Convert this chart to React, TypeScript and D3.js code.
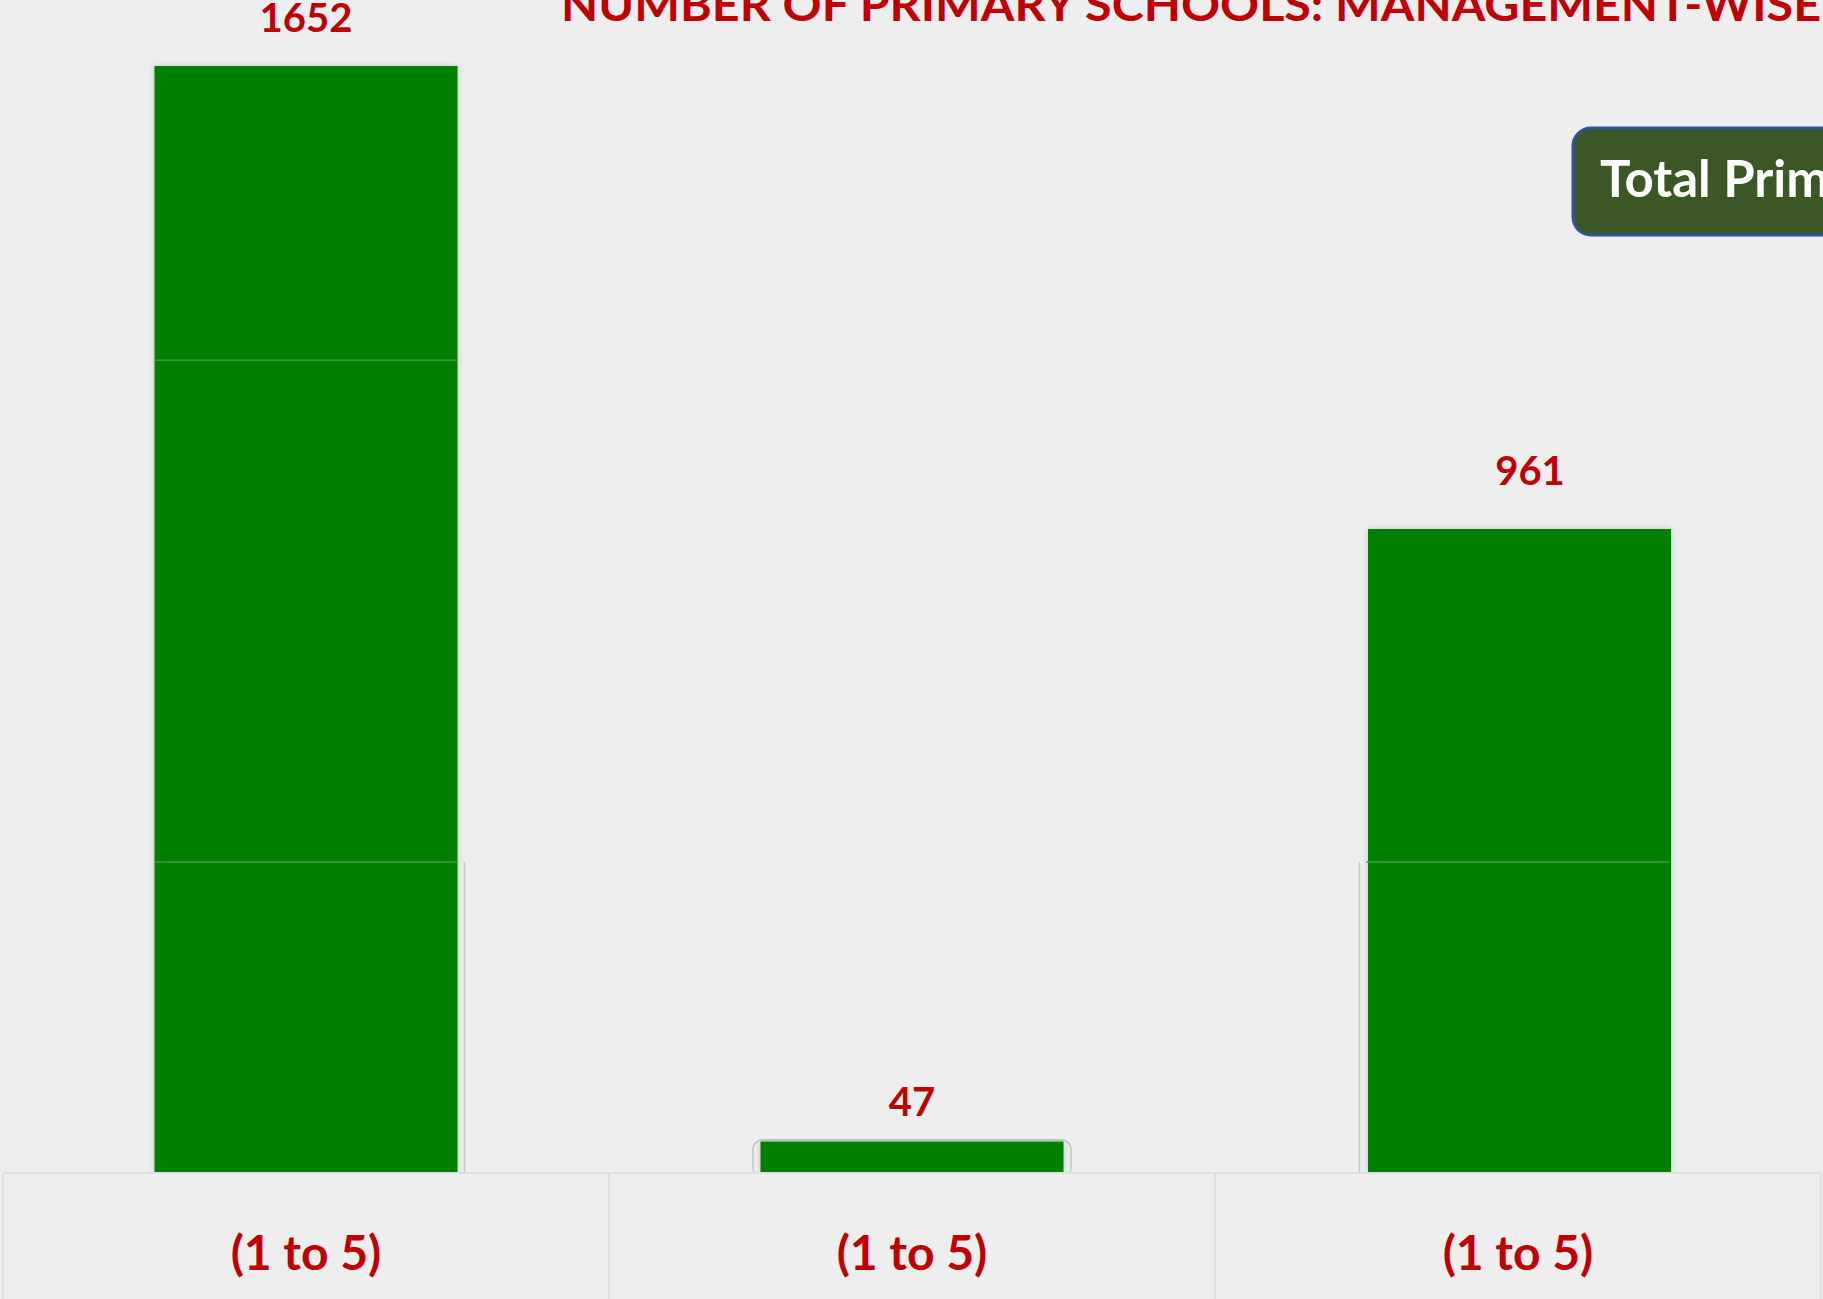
import React from "react";
import * as d3 from "d3";

const categories = ["A", "B", "C"];
const categoryLabels = ["(1 to 5)", "(1 to 5)", "(1 to 5)"];
const schoolCounts = [1652, 47, 961];
const segmentBreaks = [464, 1213];
const titleText = "NUMBER OF PRIMARY SCHOOLS: MANAGEMENT-WISE";
const legendText = "Total Primary Schools: 2660";

const W = 1823;
const H = 1299;
const FONT = "Lato, 'Open Sans', sans-serif";
const RED = "#C00000";
const GREEN = "#008000";

export default function App() {
  const axisY = 1173;
  const y = d3.scaleLinear().domain([0, 1652]).range([axisY, 66]);
  const cell = d3.scaleBand<string>().domain(categories).range([3, 1821]).padding(0);
  const cw = cell.bandwidth();
  const barX = (c: string) => (cell(c) as number) + cw * 0.25;
  const bw = cw * 0.5;
  const labelDx = [0, 0, 12];
  const labelGap = [34, 26, 44];

  return (
    <div style={{ position: "fixed", left: 0, top: 0, width: W, height: H, background: "#EEEEEE" }}>
      <svg width={W} height={H} style={{ display: "block" }}>
        <defs>
          <filter id="sh" x="-10%" y="-10%" width="120%" height="120%">
            <feDropShadow dx="0" dy="0" stdDeviation="3" floodColor="#000" floodOpacity="0.18" />
          </filter>
        </defs>
        <rect x={0} y={0} width={W} height={H} fill="#EEEEEE" />

        {/* title */}
        <text x={561} y={21} fill={RED} fontFamily={FONT} fontWeight={700} fontSize={46}
          textLength={1260} lengthAdjust="spacingAndGlyphs">{titleText}</text>

        {/* legend box */}
        <rect x={1573} y={128} width={400} height={107} rx={18} ry={18} fill="#3A5725" stroke="#2F5597" strokeWidth={3} />
        <text x={1600} y={197} fill="#FFFFFF" fontFamily={FONT} fontWeight={700} fontSize={51}>{legendText}</text>

        {/* bar 2 outline */}
        <rect x={753} y={1140} width={318} height={axisY - 1140 + 4} rx={9} fill="none" stroke="#C4C4C4" strokeWidth={1.5} />

        {/* bars */}
        {categories.map((c, i) => (
          <g key={c}>
            <rect x={barX(c) + (i === 2 ? 1.5 : 0)} y={y(schoolCounts[i])} width={bw} height={axisY - y(schoolCounts[i])}
              fill={GREEN} filter="url(#sh)" />
            {segmentBreaks.filter((b) => b < schoolCounts[i]).map((b) => (
              <line key={b} x1={barX(c)} x2={barX(c) + bw} y1={y(b)} y2={y(b)} stroke="#3E9E3E" strokeWidth={1.5} />
            ))}
            <text x={barX(c) + bw / 2 + labelDx[i]} y={y(schoolCounts[i]) - labelGap[i]} textAnchor="middle"
              fill={RED} fontFamily={FONT} fontWeight={700} fontSize={40}>{schoolCounts[i]}</text>
          </g>
        ))}

        {/* stray vertical lines */}
        <line x1={barX(categories[0]) + bw + 7} x2={barX(categories[0]) + bw + 7} y1={y(segmentBreaks[0])} y2={axisY} stroke="#C6C6C6" strokeWidth={1.5} />
        <line x1={barX(categories[2]) - 7} x2={barX(categories[2]) - 7} y1={y(segmentBreaks[0])} y2={axisY} stroke="#C6C6C6" strokeWidth={1.5} />

        {/* bottom category cells */}
        <rect x={0} y={axisY} width={W} height={H - axisY} fill="#EEEEEE" />
        <line x1={3} x2={1821} y1={axisY} y2={axisY} stroke="#DCE1E8" strokeWidth={2} />
        {categories.map((c) => (
          <line key={c + "s"} x1={cell(c) as number} x2={cell(c) as number} y1={axisY} y2={H} stroke="#DCE1E8" strokeWidth={2} />
        ))}
        <line x1={1821} x2={1821} y1={axisY} y2={H} stroke="#DCE1E8" strokeWidth={2} />
        {categories.map((c, i) => (
          <text key={c + "l"} x={(cell(c) as number) + cw / 2} y={1270} textAnchor="middle"
            fill={RED} fontFamily={FONT} fontWeight={700} fontSize={48}>{categoryLabels[i]}</text>
        ))}
      </svg>
    </div>
  );
}
